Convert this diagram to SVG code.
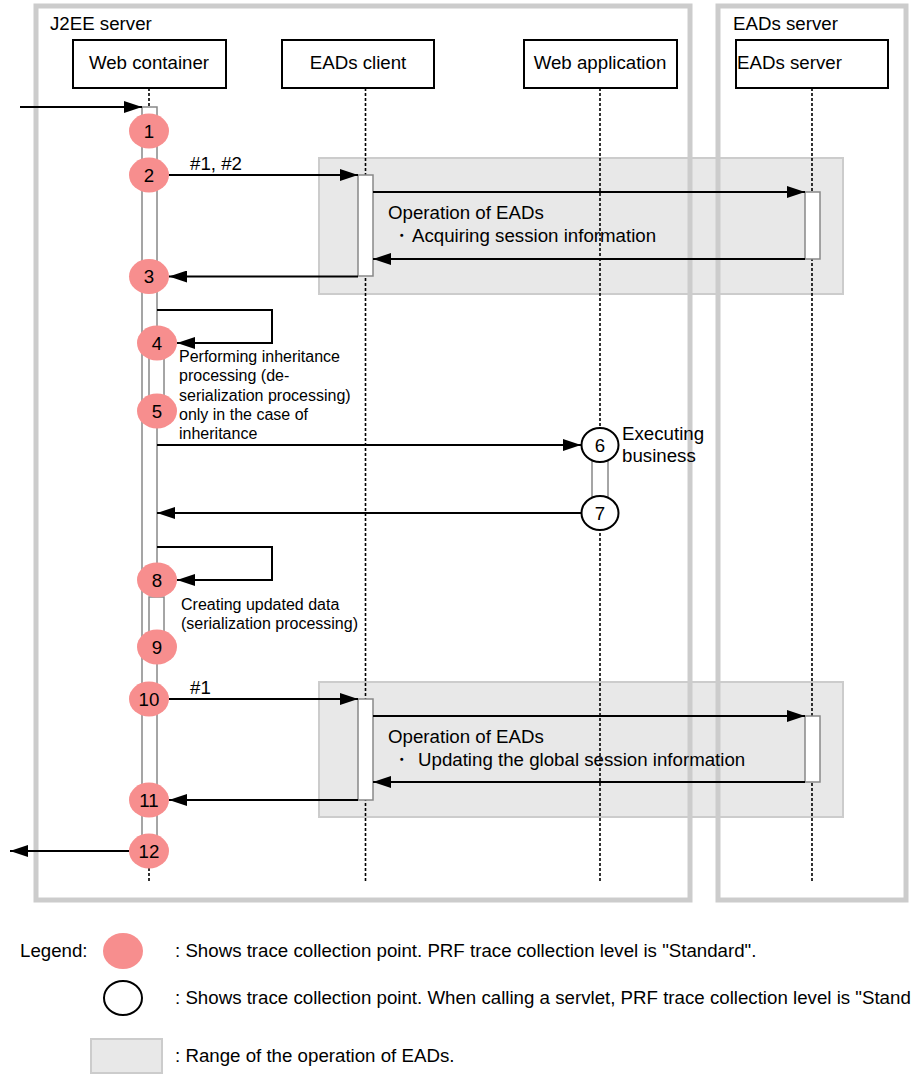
<svg xmlns="http://www.w3.org/2000/svg" width="914" height="1075" viewBox="0 0 914 1075">
<defs>
<marker id="ah" viewBox="0 0 18 12" refX="18" refY="6" markerWidth="18" markerHeight="12" markerUnits="userSpaceOnUse" orient="auto">
<path d="M0,0 L18,6 L0,12 Z" fill="#000"/>
</marker>
</defs>
<style>
text{font-family:"Liberation Sans",Arial,sans-serif;fill:#000}
.t{font-size:18.7px}
.s{font-size:16px}
.c{text-anchor:middle}
.frame{fill:none;stroke:#cccccc;stroke-width:5}
.op{fill:#e8e8e8;stroke:#cccccc;stroke-width:2}
.head{fill:#fff;stroke:#000;stroke-width:2}
.life{stroke:#000;stroke-width:1.6;stroke-dasharray:3,2;fill:none}
.act{fill:#fff;stroke:#888;stroke-width:1.5}
.pink{fill:#f78e8e;stroke:none}
.wc{fill:#fff;stroke:#000;stroke-width:2}
.msg{fill:none;stroke:#000;stroke-width:2;marker-end:url(#ah)}
</style>
<rect width="914" height="1075" fill="#fff"/>

<g id="op-range-1"><rect class="op" x="319" y="158" width="524" height="136"/></g>
<g id="op-range-2"><rect class="op" x="319" y="682" width="524" height="135"/></g>

<g id="j2ee-server">
<rect class="frame" x="36" y="6" width="654" height="894"/>
<text class="t" x="50" y="30">J2EE server</text>
</g>
<g id="eads-server-frame">
<rect class="frame" x="718" y="6" width="188" height="894"/>
<text class="t" x="733" y="30">EADs server</text>
</g>

<g id="op-text-1">
<text class="t" x="388" y="219">Operation of EADs</text>
<text class="t" x="392" y="242">・</text>
<text class="t" x="412" y="242">Acquiring session information</text>
</g>
<g id="op-text-2">
<text class="t" x="388" y="743">Operation of EADs</text>
<text class="t" x="392" y="766">・</text>
<text class="t" x="418" y="766">Updating the global session information</text>
</g>

<g id="note-executing">
<text class="t" x="622" y="440">Executing</text>
<text class="t" x="622" y="462">business</text>
</g>
<g id="note-inherit">
<text class="s" x="179" y="362">Performing inheritance</text>
<text class="s" x="179" y="381">processing (de-</text>
<text class="s" x="179" y="401">serialization processing)</text>
<text class="s" x="179" y="420">only in the case of</text>
<text class="s" x="179" y="439">inheritance</text>
</g>
<g id="note-serialize">
<text class="s" x="181" y="610">Creating updated data</text>
<text class="s" x="181" y="629">(serialization processing)</text>
</g>

<g id="lifelines">
<line class="life" x1="149" y1="88" x2="149" y2="883"/>
<line class="life" x1="365.5" y1="88" x2="365.5" y2="883"/>
<line class="life" x1="600" y1="88" x2="600" y2="883"/>
<line class="life" x1="812" y1="88" x2="812" y2="883"/>
</g>

<g id="web-container">
<rect class="head" x="73" y="40" width="153" height="48"/>
<text class="t c" x="149" y="69">Web container</text>
</g>
<g id="eads-client">
<rect class="head" x="282" y="40" width="152" height="48"/>
<text class="t c" x="358" y="69">EADs client</text>
</g>
<g id="web-application">
<rect class="head" x="524" y="40" width="153" height="48"/>
<text class="t c" x="600" y="69">Web application</text>
</g>
<g id="eads-server">
<rect class="head" x="736" y="40" width="152" height="48"/>
<text class="t" x="737" y="69">EADs server</text>
</g>

<g id="activations">
<rect class="act" x="142" y="107" width="15" height="753"/>
<rect class="act" x="149" y="353" width="15" height="47"/>
<rect class="act" x="149" y="597" width="15" height="36"/>
<rect class="act" x="358" y="175" width="15" height="101"/>
<rect class="act" x="805" y="192" width="15" height="67"/>
<rect class="act" x="358" y="699" width="15" height="101"/>
<rect class="act" x="805" y="716" width="15" height="66"/>
<rect class="act" x="592" y="445" width="16" height="68"/>
</g>

<g id="connectors">
<line class="msg" x1="20" y1="107" x2="142" y2="107"/>
<line class="msg" x1="169" y1="175" x2="358" y2="175"/>
<text class="t" x="190" y="170">#1, #2</text>
<line class="msg" x1="373" y1="192" x2="805" y2="192"/>
<line class="msg" x1="805" y1="259" x2="373" y2="259"/>
<line class="msg" x1="358" y1="276.5" x2="169" y2="276.5"/>
<path class="msg" d="M157,310 H272 V343 H177"/>
<line class="msg" x1="157" y1="445" x2="581" y2="445"/>
<line class="msg" x1="581" y1="513" x2="157" y2="513"/>
<path class="msg" d="M157,547 H272 V580 H177"/>
<line class="msg" x1="169" y1="699" x2="358" y2="699"/>
<text class="t" x="190" y="694">#1</text>
<line class="msg" x1="373" y1="716" x2="805" y2="716"/>
<line class="msg" x1="805" y1="782" x2="373" y2="782"/>
<line class="msg" x1="358" y1="800" x2="169" y2="800"/>
<line class="msg" x1="129" y1="851" x2="10" y2="851"/>
</g>

<g id="p1"><ellipse class="pink" cx="149" cy="131" rx="20" ry="17.5"/><text class="t c" x="149" y="137.5">1</text></g>
<g id="p2"><ellipse class="pink" cx="149" cy="175" rx="20" ry="17.5"/><text class="t c" x="149" y="181.5">2</text></g>
<g id="p3"><ellipse class="pink" cx="149" cy="276.5" rx="20" ry="17.5"/><text class="t c" x="149" y="283">3</text></g>
<g id="p4"><ellipse class="pink" cx="157" cy="343" rx="20" ry="17.5"/><text class="t c" x="157" y="349.5">4</text></g>
<g id="p5"><ellipse class="pink" cx="157" cy="411" rx="20" ry="17.5"/><text class="t c" x="157" y="417.5">5</text></g>
<g id="p6"><ellipse class="wc" cx="600" cy="445" rx="18.5" ry="17"/><text class="t c" x="600" y="451.5">6</text></g>
<g id="p7"><ellipse class="wc" cx="600" cy="513" rx="18.5" ry="17"/><text class="t c" x="600" y="519.5">7</text></g>
<g id="p8"><ellipse class="pink" cx="157" cy="580" rx="20" ry="17.5"/><text class="t c" x="157" y="586.5">8</text></g>
<g id="p9"><ellipse class="pink" cx="157" cy="647" rx="20" ry="17.5"/><text class="t c" x="157" y="653.5">9</text></g>
<g id="p10"><ellipse class="pink" cx="149" cy="699" rx="20" ry="17.5"/><text class="t c" x="149" y="705.5">10</text></g>
<g id="p11"><ellipse class="pink" cx="149" cy="800" rx="20" ry="17.5"/><text class="t c" x="149" y="806.5">11</text></g>
<g id="p12"><ellipse class="pink" cx="149" cy="851" rx="20" ry="17.5"/><text class="t c" x="149" y="857.5">12</text></g>

<g id="legend">
<text class="t" x="20" y="957">Legend:</text>
<ellipse class="pink" cx="123" cy="951" rx="20" ry="18"/>
<text class="t" x="175" y="957">: Shows trace collection point. PRF trace collection level is "Standard".</text>
<ellipse class="wc" cx="123" cy="998" rx="19" ry="17"/>
<text class="t" x="175" y="1004">: Shows trace collection point. When calling a servlet, PRF trace collection level is "Stand</text>
<rect class="op" x="91" y="1039" width="71" height="34"/>
<text class="t" x="175" y="1062">: Range of the operation of EADs.</text>
</g>
</svg>
